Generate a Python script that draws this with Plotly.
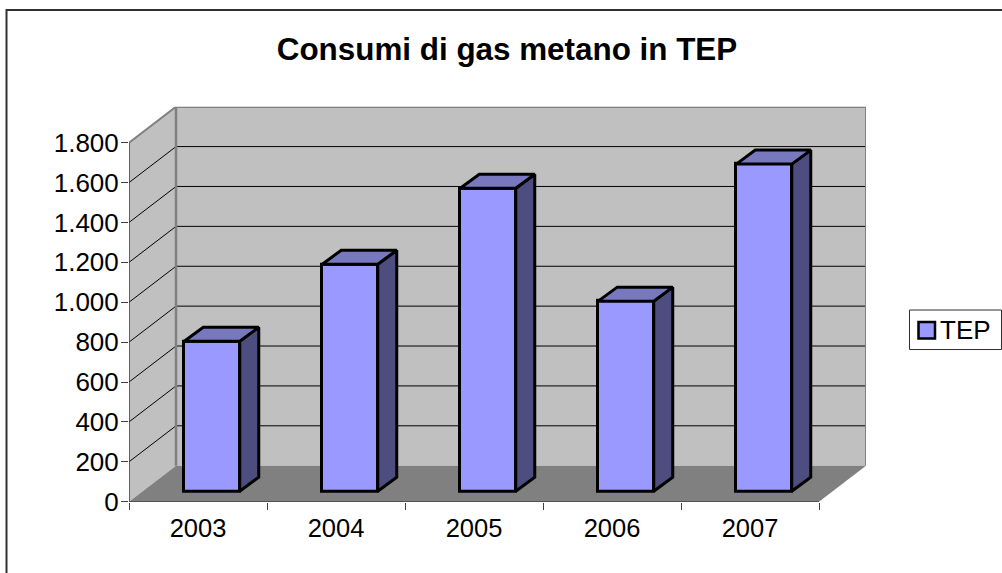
import plotly.graph_objects as go

years = ["2003", "2004", "2005", "2006", "2007"]
tep = [752, 1138, 1519, 953, 1640]
y_ticks = [0, 200, 400, 600, 800, 1000, 1200, 1400, 1600, 1800]
y_labels = ["0", "200", "400", "600", "800", "1.000", "1.200", "1.400", "1.600", "1.800"]
series_name = "TEP"

W, H = 1002, 573
PX_X = 138.0
PX_Y = 359.0 / 1800
DEPTH_X = 47 / PX_X
DEPTH_Y = 36 / PX_Y
BAR_W = 55.5 / PX_X
BAR_DX = 19 / PX_X
BAR_DY = 14 / PX_Y
BAR_SHIFT_X = 14 / PX_X
BAR_LIFT = 10.5 / PX_Y
X0, X1 = -0.5, 4.5
XB0, XB1 = X0 + DEPTH_X, X1 + DEPTH_X
YMAX = 1800
FONT = "Liberation Sans"

xs = [i + BAR_SHIFT_X for i in range(len(years))]

fig = go.Figure()
fig.add_bar(x=xs, y=tep, base=BAR_LIFT, width=BAR_W, name=series_name, showlegend=False,
            marker=dict(color="#9999FF", line=dict(color="black", width=3)))

side_x, side_y, top_x, top_y = [], [], [], []
for x, v in zip(xs, tep):
    l, r = x - BAR_W / 2, x + BAR_W / 2
    t = v + BAR_LIFT
    side_x += [r, r + BAR_DX, r + BAR_DX, r, r, None]
    side_y += [BAR_LIFT, BAR_LIFT + BAR_DY, t + BAR_DY, t, BAR_LIFT, None]
    top_x += [l, l + BAR_DX, r + BAR_DX, r, l, None]
    top_y += [t, t + BAR_DY, t + BAR_DY, t, t, None]
for fx, fy, col in ((side_x, side_y, "#4D4D80"), (top_x, top_y, "#7878BE")):
    fig.add_scatter(x=fx, y=fy, mode="lines", fill="toself", fillcolor=col, showlegend=False,
                    line=dict(color="black", width=3), hoverinfo="skip")

shapes = []
def poly(pts, fill, lw=0, lc="rgba(0,0,0,0)"):
    d = "M" + "L".join(f"{a},{b}" for a, b in pts) + "Z"
    shapes.append(dict(type="path", path=d, xref="x", yref="y", layer="below", fillcolor=fill,
                       line=dict(color=lc, width=lw)))
def seg(a, b, c, d, col="black", lw=1):
    shapes.append(dict(type="line", x0=a, y0=b, x1=c, y1=d, xref="x", yref="y", layer="below",
                       line=dict(color=col, width=lw)))
def page_rect(x0, y0, x1, y1, fill, col, lw, layer="above"):
    shapes.append(dict(type="rect", xref="paper", yref="paper", x0=x0 / W, x1=x1 / W,
                       y0=1 - y1 / H, y1=1 - y0 / H, layer=layer, fillcolor=fill,
                       line=dict(color=col, width=lw)))

page_rect(6.5, 10, 1200, 800, "white", "#303030", 2, "below")
poly([(X0, 0), (X0, YMAX), (XB0, YMAX + DEPTH_Y), (XB0, DEPTH_Y)], "#C0C0C0")
poly([(XB0, DEPTH_Y), (XB0, YMAX + DEPTH_Y), (XB1, YMAX + DEPTH_Y), (XB1, DEPTH_Y)], "#C0C0C0")
poly([(X0, 0), (XB0, DEPTH_Y), (XB1, DEPTH_Y), (X1, 0)], "#808080")
for v in y_ticks[1:-1]:
    seg(X0, v, XB0, v + DEPTH_Y)
    seg(XB0, v + DEPTH_Y, XB1, v + DEPTH_Y)
seg(X0, YMAX, XB0, YMAX + DEPTH_Y, "#808080", 2)
seg(XB0, YMAX + DEPTH_Y, XB1, YMAX + DEPTH_Y, "#808080", 2.5)
seg(XB0, DEPTH_Y, XB0, YMAX + DEPTH_Y, "#808080", 2.5)
seg(XB1, DEPTH_Y, XB1, YMAX + DEPTH_Y, "#808080", 2)
seg(X0, 0, X0, YMAX, "#404040", 1.5)
seg(X0, 0, X1, 0, "#303030", 1.5)

# legend box
page_rect(909.5, 310, 1001.5, 349.5, "white", "#303030", 1)
page_rect(918.5, 322, 935, 338.5, "#9999FF", "black", 2.5)

fig.update_layout(
    width=W, height=H, autosize=False, margin=dict(l=0, r=0, t=0, b=0, pad=0),
    paper_bgcolor="white", plot_bgcolor="rgba(0,0,0,0)",
    font=dict(family=FONT, color="black", size=26),
    title=dict(text="<b>Consumi di gas metano in TEP</b>", font=dict(size=31.4, family=FONT),
               x=507 / W, xanchor="center", y=1 - 49 / H, yanchor="middle"),
    xaxis=dict(domain=[129 / W, 866 / W], range=[X0, XB1], tickmode="array", automargin=False,
               tickvals=list(range(len(years))), ticktext=years, ticks="", showgrid=False, zeroline=False,
               showline=False, tickfont=dict(size=25.5, family=FONT), ticklabelstandoff=9,
               minor=dict(tickmode="array", tickvals=[X0 + i for i in range(len(years) + 1)], ticks="outside",
                          ticklen=7, tickcolor="#404040", tickwidth=1, showgrid=False)),
    yaxis=dict(domain=[1 - 501.7 / H, 1 - 106.7 / H], range=[0, YMAX + DEPTH_Y], tickmode="array", automargin=False,
               tickvals=y_ticks, ticktext=y_labels, ticks="outside", ticklen=7, tickcolor="#404040", tickwidth=1,
               ticklabelstandoff=-3, showgrid=False, zeroline=False, showline=False,
               tickfont=dict(size=26, family=FONT)),
    annotations=[dict(text=series_name, xref="paper", yref="paper", x=941 / W, y=1 - 330 / H,
                      xanchor="left", yanchor="middle", showarrow=False, xshift=-3,
                      font=dict(size=26, family=FONT, color="black"))],
    showlegend=False, shapes=shapes, bargap=0,
)
fig.write_html("out.html", config={"displayModeBar": False},
               post_script="document.body.style.margin='0';document.documentElement.style.overflow='hidden';")
